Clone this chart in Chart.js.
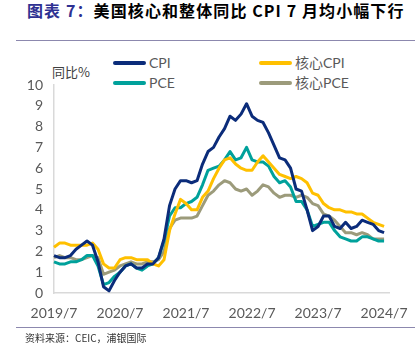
<!DOCTYPE html>
<html>
<head>
<meta charset="utf-8">
<script src="https://cdn.jsdelivr.net/npm/chart.js@4.4.0/dist/chart.umd.min.js"></script>
<style>
    body { margin: 0; background: #fff; width: 420px; height: 358px; position: relative; overflow: hidden; }
    .abs { position: absolute; white-space: nowrap; }
    #title { left: 27px; top: 1px; font: bold 16px 'Noto Sans CJK SC', sans-serif; letter-spacing: 1.1px; line-height: 18px; color: #000; }
    #title span { color: #2E3192; }
    .rule { position: absolute; left: 16px; width: 399px; height: 1px; background: #8C88AE; }
    #ylabel { left: 52px; top: 63px; font: 13px 'Noto Sans CJK SC', sans-serif; color: #404040; line-height: 18px; }
    #source { left: 25px; top: 331px; font: 10px 'Noto Sans CJK SC', sans-serif; color: #333; line-height: 14px; }
    .leg { position: absolute; font: 14px Lato, 'Noto Sans CJK SC', sans-serif; color: #595959; line-height: 18px; }
    .leg i { position: absolute; top: 7px; height: 4px; border-radius: 2px; }
    #wrap { position: absolute; left: 0; top: 0; width: 420px; height: 358px; }
</style>
</head>
<body>
<div id="title" class="abs"><span>图表 7：</span>美国核心和整体同比 CPI 7 月均小幅下行</div>
<div class="rule" style="top:40px"></div>
<div id="ylabel" class="abs">同比%</div>
<div id="legend"></div>
<div id="wrap"><canvas id="myChart" width="420" height="358"></canvas></div>
<div class="rule" style="top:327px"></div>
<div id="source" class="abs">资料来源：CEIC，浦银国际</div>

<script>
// 2019/7 - 2024/7, monthly
const startYear = 2019;
const startMonth = 7;
const monthCount = 61;

const xTickLabels = ['2019/7', '2020/7', '2021/7', '2022/7', '2023/7', '2024/7'];
const yTicks = [0, 1, 2, 3, 4, 5, 6, 7, 8, 9, 10];

const seriesNames = ['CPI', '核心CPI', 'PCE', '核心PCE'];
const seriesColors = ['#0B2C7A', '#FFC000', '#00A19B', '#9C9B7B'];

const cpi = [1.8, 1.7, 1.7, 1.8, 2.1, 2.3,
    2.5, 2.3, 1.5, 0.3, 0.1, 0.6, 1.0, 1.3, 1.4, 1.2, 1.2, 1.4,
    1.4, 1.7, 2.6, 4.2, 5.0, 5.4, 5.4, 5.3, 5.4, 6.2, 6.8, 7.0,
    7.5, 7.9, 8.5, 8.3, 8.6, 9.1, 8.5, 8.3, 8.2, 7.7, 7.1, 6.5,
    6.4, 6.0, 5.0, 4.9, 4.0, 3.0, 3.2, 3.7, 3.7, 3.2, 3.1, 3.4,
    3.1, 3.2, 3.5, 3.4, 3.3, 3.0, 2.9];
const coreCpi = [2.2, 2.4, 2.4, 2.3, 2.3, 2.3,
    2.3, 2.4, 2.1, 1.4, 1.2, 1.2, 1.6, 1.7, 1.7, 1.6, 1.6, 1.6,
    1.4, 1.3, 1.6, 3.0, 3.8, 4.5, 4.3, 4.0, 4.0, 4.6, 4.9, 5.5,
    6.0, 6.4, 6.5, 6.2, 6.0, 5.9, 5.9, 6.3, 6.6, 6.3, 6.0, 5.7,
    5.6, 5.5, 5.6, 5.5, 5.3, 4.8, 4.7, 4.3, 4.1, 4.0, 4.0, 3.9,
    3.9, 3.8, 3.8, 3.6, 3.4, 3.3, 3.2];
const pce = [1.5, 1.4, 1.4, 1.5, 1.5, 1.6,
    1.8, 1.8, 1.3, 0.4, 0.5, 0.8, 1.0, 1.3, 1.4, 1.2, 1.1, 1.3,
    1.4, 1.7, 2.5, 3.7, 4.1, 4.1, 4.3, 4.4, 4.6, 5.2, 5.9, 6.0,
    6.1, 6.4, 6.8, 6.4, 6.5, 7.0, 6.4, 6.3, 6.3, 6.1, 5.6, 5.3,
    5.4, 5.1, 4.4, 4.4, 4.0, 3.2, 3.3, 3.4, 3.4, 3.0, 2.7, 2.6,
    2.5, 2.5, 2.7, 2.7, 2.6, 2.5, 2.5];
const corePce = [1.7, 1.8, 1.7, 1.7, 1.6, 1.6,
    1.7, 1.8, 1.7, 0.9, 1.0, 1.1, 1.3, 1.4, 1.5, 1.4, 1.4, 1.5,
    1.5, 1.6, 2.0, 3.1, 3.5, 3.6, 3.6, 3.6, 3.7, 4.2, 4.7, 4.9,
    5.2, 5.4, 5.3, 5.0, 4.9, 5.0, 4.7, 4.9, 5.2, 5.1, 4.8, 4.6,
    4.7, 4.7, 4.6, 4.7, 4.6, 4.3, 4.2, 3.8, 3.7, 3.5, 3.2, 2.9,
    2.9, 2.8, 2.9, 2.8, 2.6, 2.6, 2.6];

const seriesData = [cpi, coreCpi, pce, corePce];

// month labels, plus one empty month so the axis runs a bit past the last point
const labels = [];
for (let i = 0; i <= monthCount; i++) {
    const m = startMonth - 1 + i;
    labels.push((startYear + Math.floor(m / 12)) + '/' + (m % 12 + 1));
}

// legend (2 x 2)
const legendPos = [[113, 54], [259, 54], [113, 74], [259, 74]];
const legend = document.getElementById('legend');
seriesNames.forEach(function (name, i) {
    const d = document.createElement('div');
    d.className = 'leg';
    d.style.left = legendPos[i][0] + 'px';
    d.style.top = legendPos[i][1] + 'px';
    d.style.paddingLeft = '36px';
    d.innerHTML = '<i style="left:0;width:33px;background:' + seriesColors[i] + '"></i>' + name;
    legend.appendChild(d);
});

const ctx = document.getElementById('myChart');
const myChart = new Chart(ctx, {
    type: 'line',
    data: {
        labels: labels,
        datasets: seriesNames.map(function (name, i) {
            return {
                label: name,
                data: seriesData[i],
                borderColor: seriesColors[i],
                backgroundColor: seriesColors[i],
                borderWidth: 3,
                pointRadius: 0,
                tension: 0,
                borderJoinStyle: 'round'
            };
        })
    },
    options: {
        responsive: false,
        animation: false,
        layout: {
            padding: {left: 10, top: 85, right: 28, bottom: 35}
        },
        plugins: {
            legend: {display: false},
            tooltip: {enabled: false}
        },
        scales: {
            x: {
                offset: false,
                grid: {display: false, drawTicks: false},
                border: {display: true, color: '#D9D9D9', width: 1.5},
                ticks: {
                    autoSkip: false,
                    maxRotation: 0,
                    padding: 12,
                    color: '#595959',
                    font: {family: 'Lato', size: 14},
                    callback: function (v, i) {
                        const l = labels[i];
                        return xTickLabels.indexOf(l) >= 0 ? l : null;
                    }
                },
                afterFit: function (scale) { scale.height = 30; }
            },
            y: {
                min: yTicks[0],
                max: yTicks[yTicks.length - 1],
                grid: {display: false, drawTicks: false},
                border: {display: true, color: '#D9D9D9', width: 1.5},
                ticks: {
                    stepSize: 1,
                    padding: 11,
                    color: '#595959',
                    font: {family: 'Lato', size: 14}
                },
                afterFit: function (scale) { scale.width = 44; }
            }
        }
    }
});
</script>
</body>
</html>
